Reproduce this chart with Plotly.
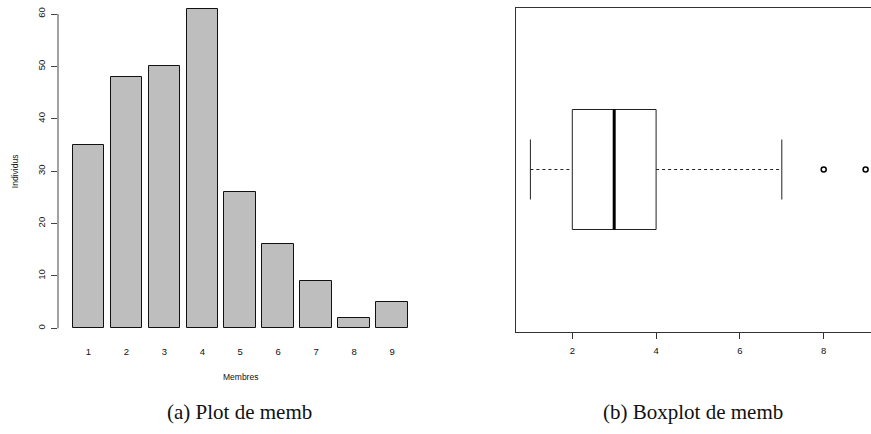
import numpy as np
import plotly.graph_objects as go

# Household size ("memb") distribution
membres = [1, 2, 3, 4, 5, 6, 7, 8, 9]
individus = [35, 48, 50, 61, 26, 16, 9, 2, 5]
ytick_vals = [0, 10, 20, 30, 40, 50, 60]
xtick_box = [2, 4, 6, 8]

W, H = 871, 434


def px_x(p):
    return p / W


def px_y(p):
    return 1 - p / H


# Raw observations rebuilt from the frequency table, used for the boxplot
memb = np.repeat(membres, individus)
q1, med, q3 = np.percentile(memb, [25, 50, 75])
iqr = q3 - q1
lo = memb[memb >= q1 - 1.5 * iqr].min()
hi = memb[memb <= q3 + 1.5 * iqr].max()
outliers = np.unique(memb[(memb < q1 - 1.5 * iqr) | (memb > q3 + 1.5 * iqr)])

fig = go.Figure()

# ---- (a) bar chart ----
fig.add_trace(go.Bar(
    x=membres, y=individus, width=1 / 1.2,
    marker=dict(color="#bebebe", line=dict(color="#111", width=1)),
    xaxis="x", yaxis="y", showlegend=False, hoverinfo="x+y",
))

# ---- (b) horizontal boxplot ----
h = 0.2
line_col = "#222"
fig.add_trace(go.Scatter(
    x=[q1, q3, q3, q1, q1], y=[1 - h, 1 - h, 1 + h, 1 + h, 1 - h],
    mode="lines", line=dict(color=line_col, width=1),
    xaxis="x2", yaxis="y2", showlegend=False, hoverinfo="skip",
))
fig.add_trace(go.Scatter(
    x=[med, med], y=[1 - h, 1 + h], mode="lines",
    line=dict(color="black", width=3),
    xaxis="x2", yaxis="y2", showlegend=False, hoverinfo="skip",
))
for a, b in [(lo, q1), (q3, hi)]:
    fig.add_trace(go.Scatter(
        x=[a, b], y=[1, 1], mode="lines",
        line=dict(color=line_col, width=1, dash="3px,3px"),
        xaxis="x2", yaxis="y2", showlegend=False, hoverinfo="skip",
    ))
for v in [lo, hi]:
    fig.add_trace(go.Scatter(
        x=[v, v], y=[1 - h / 2, 1 + h / 2], mode="lines",
        line=dict(color=line_col, width=1),
        xaxis="x2", yaxis="y2", showlegend=False, hoverinfo="skip",
    ))
fig.add_trace(go.Scatter(
    x=outliers, y=[1] * len(outliers), mode="markers",
    marker=dict(symbol="circle-open", size=5, color="black", line=dict(width=1.5)),
    xaxis="x2", yaxis="y2", showlegend=False,
))

# ---- axes geometry (pixel anchors converted to ranges) ----
# bar chart: category 1 centred at px 88.5, pitch 37.94 px
ax_l, ax_r = 58, 440
pitch = 37.94
x_rng = [1 - (88.5 - ax_l) / pitch, 1 + (ax_r - 88.5) / pitch]
ay_b, ay_t = 336, 5
ppu = (328.3 - 14) / 60
y_rng = [-(ay_b - 328.3) / ppu, 60 + (14 - ay_t) / ppu]

# boxplot: value 2 at px 572.3, 41.9 px per unit
bx_l, bx_r = 516, W
bppu = 41.9
x2_rng = [2 - (572.3 - bx_l) / bppu, 2 + (bx_r - 572.3) / bppu]
by_t, by_b = 7.5, 331.5

tick_font = dict(family="Liberation Sans, Arial, sans-serif", size=9.5, color="#111")
label_font = dict(family="Liberation Sans, Arial, sans-serif", size=8.5, color="#111")
cap_font = dict(family="Liberation Serif, Times New Roman, serif", size=21, color="#111")

fig.update_layout(
    width=W, height=H,
    margin=dict(l=0, r=0, t=0, b=0),
    paper_bgcolor="white", plot_bgcolor="white",
    bargap=0,
    xaxis=dict(
        domain=[px_x(ax_l), px_x(ax_r)], range=x_rng,
        tickvals=membres, ticktext=[str(m) for m in membres],
        showline=False, showgrid=False, zeroline=False, ticks="",
        ticklabelstandoff=8,
        tickfont=tick_font, anchor="y", fixedrange=True,
    ),
    yaxis=dict(
        domain=[px_y(ay_b), px_y(ay_t)], range=y_rng,
        tickvals=ytick_vals, tickangle=-90,
        showline=False, showgrid=False, zeroline=False,
        ticks="outside", ticklen=6, tickcolor="#444", tickwidth=1,
        ticklabelstandoff=2,
        tickfont=tick_font, anchor="x", fixedrange=True,
    ),
    xaxis2=dict(
        domain=[px_x(bx_l), 1], range=x2_rng,
        tickvals=xtick_box,
        showline=True, mirror=True, linecolor="#333", linewidth=1,
        showgrid=False, zeroline=False,
        ticks="outside", ticklen=6, tickcolor="#333", tickwidth=1,
        ticklabelstandoff=4,
        tickfont=tick_font, anchor="y2", fixedrange=True,
    ),
    yaxis2=dict(
        domain=[px_y(by_b), px_y(by_t)], range=[0.46, 1.54],
        showline=True, linecolor="#333", linewidth=1,
        showgrid=False, zeroline=False, showticklabels=False, ticks="",
        anchor="x2", fixedrange=True,
    ),
    shapes=[
        # y axis line spanning only 0..60
        dict(type="line", xref="x domain", yref="y", x0=0, x1=0,
             y0=ytick_vals[0], y1=ytick_vals[-1],
             line=dict(color="#444", width=1)),
    ],
    annotations=[
        dict(text="Membres", xref="x", yref="paper", x=5, y=px_y(377),
             xanchor="center", yanchor="middle", showarrow=False, font=label_font),
        dict(text="Individus", xref="paper", yref="y", x=px_x(15), y=30,
             xanchor="center", yanchor="middle",
             textangle=-90, showarrow=False, font=label_font),
        dict(text="(a) Plot de memb", xref="paper", yref="paper",
             x=px_x(240), y=px_y(412), xanchor="center", yanchor="middle",
             showarrow=False, font=cap_font),
        dict(text="(b) Boxplot de memb", xref="paper", yref="paper",
             x=px_x(693), y=px_y(412), xanchor="center", yanchor="middle",
             showarrow=False, font=cap_font),
    ],
)

fig.write_html("out.html")
